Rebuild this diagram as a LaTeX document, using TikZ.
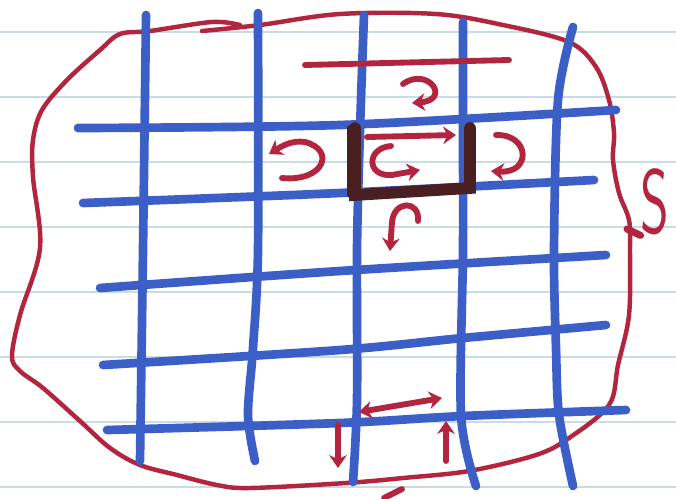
\documentclass[tikz,border=0pt]{standalone}
\usetikzlibrary{arrows.meta}
\definecolor{inkblue}{HTML}{3B5FC6}
\definecolor{inkred}{HTML}{B3253F}
\definecolor{inkdark}{HTML}{4A1F22}
\definecolor{rulecol}{HTML}{C8DCE6}
\begin{document}
\begin{tikzpicture}[
  x=0.03cm, y=-0.03cm,
  ruling/.style={draw=rulecol, line width=2.4pt},
  gridline/.style={draw=inkblue, line width=7.4pt, line cap=round},
  border/.style={draw=inkred, line width=3.8pt, line cap=round, line join=round},
  tip/.style={-{Stealth[length=11pt, width=15pt]}},
  flux/.style={draw=inkred, line width=5pt, line cap=round, tip},
  cellbox/.style={draw=inkdark, line width=10pt, line cap=round},
  lbl/.style={text=inkred, font=\fontsize{78}{78}\selectfont\sffamily, inner sep=0pt}
]

% Paper
\fill[white] (0,0) rectangle (676,498);
\useasboundingbox (0,0) rectangle (676,498);
\foreach \yy in {32,97,...,487}
  \draw[ruling] (0,\yy) -- (676,\yy);

% Boundary S
\draw[border] plot[smooth, tension=0.55] coordinates {
  (202,31) (260,25) (340,14) (436,14) (503,25) (569,42) (596,67) (609,100)
  (614,133) (613,160) (619,193) (629,220) (630,250) (629,315) (618,365)
  (609,405) (569,438) (536,455) (469,471) (403,478) (346,483) (250,488)
  (217,485) (177,475) (140,465) (110,448) (80,421) (43,388) (20,371)
  (12,356) (20,315) (40,248) (33,177) (33,140) (42,110) (67,80) (100,50)
  (120,34) (150,31) (212,22) (240,25)};
\coordinate (tie) at (627,229);
\node[lbl, xscale=0.6] (lblS) at (655,202) {S};
\draw[border, line width=6pt] (lblS.south west) -- (tie);
\draw[border, line width=5pt] (384,498) -- (402,489);

% Grid: vertical lines
\draw[gridline] plot[smooth] coordinates {(146,15) (143,250) (140,461)};
\draw[gridline] plot[smooth] coordinates {(258,13) (258,250) (253,348) (248,415) (255,461)};
\draw[gridline] plot[smooth] coordinates {(364,15) (360,130) (357,250) (357,400) (353,482)};
\draw[gridline] plot[smooth] coordinates {(463,22) (463,130) (463,250) (461,415) (476,486)};
\draw[gridline] plot[smooth] coordinates {(573,27) (558,100) (554,250) (556,348) (559,415) (573,486)};

% Grid: horizontal lines
\draw[gridline] plot[smooth] coordinates {(78,128) (340,125) (616,110)};
\draw[gridline] plot[smooth] coordinates {(83,203) (340,193) (594,180)};
\draw[gridline] plot[smooth] coordinates {(100,288) (340,271) (606,255)};
\draw[gridline] plot[smooth] coordinates {(103,365) (340,350) (463,338) (606,325)};
\draw[gridline] plot[smooth] coordinates {(107,430) (340,423) (463,416) (626,410)};

% Top flux line
\draw[border, line width=5pt] (305,65) -- (509,60);

% Marked cell
\draw[cellbox] (355,128) -- (355,195) -- (470,188) -- (470,128);
\draw[cellbox, line width=5pt] (350,128) -- (350,195);

% Curls around the cell
\draw[flux] (403,84) .. controls (428,66) and (452,100) .. (412,103);
\draw[flux] (282,178) .. controls (324,182) and (336,150) .. (305,142)
  .. controls (292,140) and (282,146) .. (269,154);
\draw[flux] (496,135) .. controls (530,134) and (532,174) .. (491,171);
\draw[flux] (418,221) .. controls (420,200) and (394,200) .. (392,222) -- (390,251);
\draw[flux] (367,137) -- (456,135);
\draw[flux] (391,146) .. controls (366,148) and (366,177) .. (392,175) -- (420,170);

% Arrows near the bottom
\draw[flux, {Stealth[length=11pt, width=15pt]}-{Stealth[length=11pt, width=15pt]}] (359,412) -- (442,398);
\draw[flux] (446,461) -- (446,421);
\draw[flux] (338,425) -- (338,468);

\end{tikzpicture}
\end{document}
